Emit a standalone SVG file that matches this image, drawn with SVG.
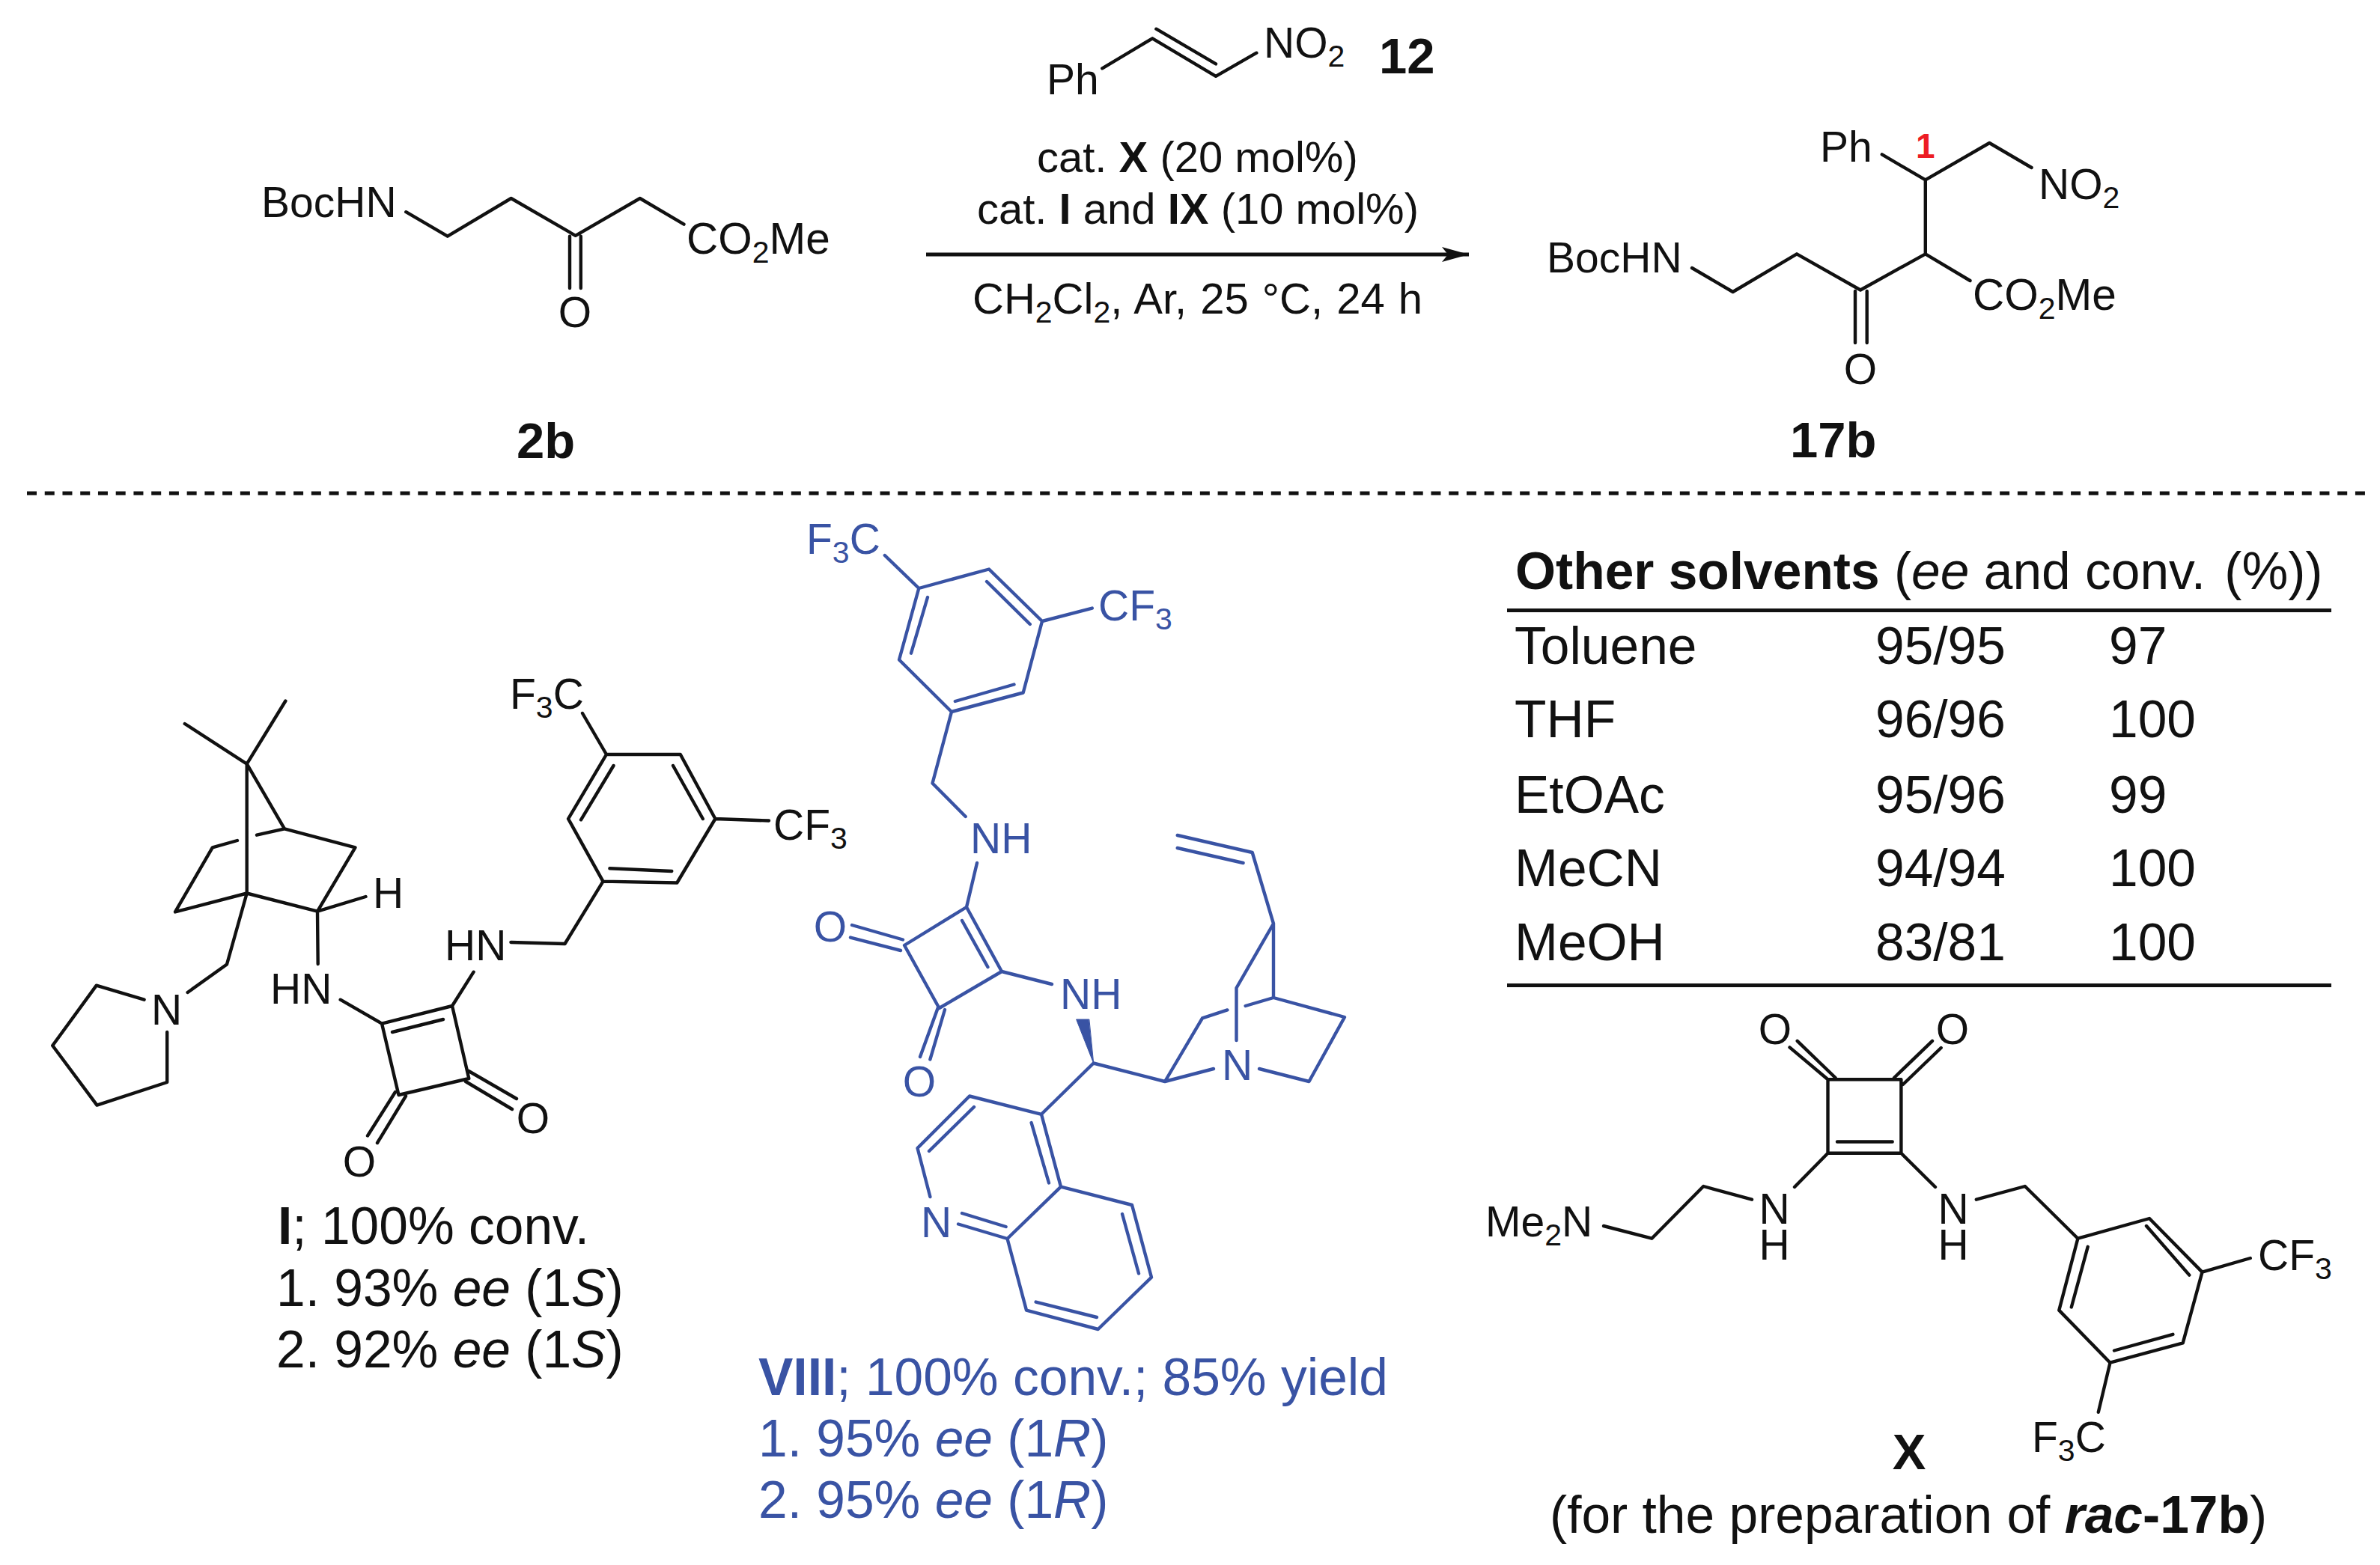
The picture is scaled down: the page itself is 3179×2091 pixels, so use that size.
<svg xmlns="http://www.w3.org/2000/svg" width="3179" height="2091" viewBox="0 0 3179 2091">
<style>
text{font-family:"Liberation Sans",Arial,sans-serif;fill:#111}
.a{font-size:57px;transform:translateY(1.5px)}
.c{font-size:58.5px}
.r{font-size:58px}
.t{font-size:69.5px;transform:translateY(1.5px)}
.l{font-size:67px;font-weight:bold}
.h{font-weight:bold}
.i{font-style:italic}
.k{stroke:#111;stroke-width:4.4;fill:none;stroke-linejoin:round;stroke-linecap:round}
.bl text,.bl{fill:#3953a4}
.bl path{stroke:#3953a4;stroke-width:4.4;fill:none;stroke-linejoin:round;stroke-linecap:round}
.s{font-size:41px}
</style>
<defs>
<marker id="ah" markerUnits="userSpaceOnUse" markerWidth="40" markerHeight="24" refX="38" refY="12" orient="auto"><path d="M2 2L38 12L2 22L10 12Z" fill="#111"/></marker>
</defs>
<rect width="3179" height="2091" fill="#fff"/>
<g id="connectors">
<path d="M1237 340H1962" stroke="#111" stroke-width="5" fill="none" marker-end="url(#ah)"/>
<path d="M36 659H3160" stroke="#111" stroke-width="5" stroke-dasharray="13 10.74" fill="none"/>
<path d="M2013 815.5H3114M2013 1316.5H3114" stroke="#111" stroke-width="5" fill="none"/>
</g>
<g id="compound-2b">
<path class="k" d="M542.3 283.2L597.8 315.7L682.7 265L768.7 314.8L854.8 265L913.5 299.7M761 315.7V385M775.8 315.7V385"/>
<text class="a" x="349" y="288">BocHN</text>
<text class="a c" x="917" y="337.5">CO<tspan class="s" dy="12">2</tspan><tspan dy="-12">Me</tspan></text>
<text class="a" x="768" y="435.6" text-anchor="middle">O</text>
<text class="l" x="690" y="611.5">2b</text>
</g>
<g id="compound-12">
<path class="k" d="M1472.3 91.3L1539.3 51.3L1624 101.9L1678.3 70.7M1544.4 38.7L1624 85.4"/>
<text class="a" x="1398" y="124">Ph</text>
<text class="a" x="1688" y="75.8">NO<tspan class="s" dy="12">2</tspan></text>
<text class="l" x="1842" y="97.6">12</text>
</g>
<g id="conditions">
<text class="r" x="1385" y="230">cat. <tspan class="h">X</tspan> (20 mol%)</text>
<text class="r" x="1305" y="299">cat. <tspan class="h">I</tspan> and <tspan class="h">IX</tspan> (10 mol%)</text>
<text class="r" x="1299" y="419" word-spacing="2">CH<tspan class="s" dy="12">2</tspan><tspan dy="-12">Cl</tspan><tspan class="s" dy="12">2</tspan><tspan dy="-12">, Ar, 25 °C, 24 h</tspan></text>
</g>
<g id="compound-17b">
<path class="k" d="M2260 358L2314.6 390L2400 339.3L2485 387.5L2571.8 339.3L2631.5 375M2571.8 339.3V240.4L2513.8 206.4M2571.8 240.4L2657.3 191L2713.6 224M2478 389V458M2493.7 389V458"/>
<text class="a" x="2066" y="362.5">BocHN</text>
<text class="a" x="2431" y="214.3">Ph</text>
<text x="2559" y="210.7" font-size="46" font-weight="bold" style="fill:#ed1c24">1</text>
<text class="a" x="2723" y="264.3">NO<tspan class="s" dy="12">2</tspan></text>
<text class="a c" x="2635" y="412.5">CO<tspan class="s" dy="12">2</tspan><tspan dy="-12">Me</tspan></text>
<text class="a" x="2485" y="511.4" text-anchor="middle">O</text>
<text class="l" x="2391" y="611.4">17b</text>
</g>
<g id="catalyst-I">
<path class="k" d="M381.4 936.5L329.7 1020.7L246.8 967M329.7 1020.7V1193.5M329.7 1020.7L380 1107.4L474.5 1132.3L424 1217.7L329.7 1193.5L234 1218.4L283.8 1132.3L317 1123M343 1115.7L380 1107.4M424 1217.7L488.5 1198M424 1217.7L424.7 1288M329.7 1193.5L303 1288.5L250.6 1326M192.6 1335.7L128.8 1316.6L70.2 1397L129.5 1476.6L223.2 1446V1379M454.7 1335.7L510 1367.6L604 1344L626.3 1441L532.5 1463L510 1367.6M524 1379L592 1362M604 1344L632.6 1298.7M682.4 1259L754.5 1261L805.5 1177.6L759 1094L810 1008H908.8L955.4 1094L904.3 1179.5L805.5 1177.6M776 1095.3L819.5 1023M899 1023L938.8 1094M814.4 1160.3L897.3 1164M810 1008L778 953M955.4 1094L1027 1096.5M528 1459L491 1517.5M542 1464.5L504 1527M626 1431L690 1468M622 1445L684 1482"/>
<text class="a" x="498" y="1211">H</text>
<text class="a" x="361" y="1339">HN</text>
<text class="a" x="594" y="1281.5">HN</text>
<text class="a" x="202" y="1367.6">N</text>
<text class="a" x="681" y="945">F<tspan class="s" dy="12">3</tspan><tspan dy="-12">C</tspan></text>
<text class="a" x="1033" y="1120.7">CF<tspan class="s" dy="12">3</tspan></text>
<text class="a" x="480" y="1570" text-anchor="middle">O</text>
<text class="a" x="712" y="1512" text-anchor="middle">O</text>
<text class="t" x="371" y="1660"><tspan class="h">I</tspan>; 100% conv.</text>
<text class="t" x="369" y="1743">1. 93% <tspan class="i">ee</tspan> (1<tspan class="i">S</tspan>)</text>
<text class="t" x="369" y="1825">2. 92% <tspan class="i">ee</tspan> (1<tspan class="i">S</tspan>)</text>
</g>
<g id="catalyst-VIII" class="bl">
<path d="M1181.8 742L1227.3 786L1321 760.5L1392 830L1366.7 925.5L1271 951L1201 881.5L1227.3 786M1239 798L1217 872.7M1318 777L1375.8 834M1354.5 914.5L1275.8 937M1392 830L1458.8 812.6M1271 951L1245.5 1046.5L1289.7 1091M1305 1153L1291 1212L1338 1298L1254.5 1347L1208 1263L1291 1212M1285 1230L1319.4 1292M1138 1236L1206 1255.5M1136 1252.6L1203 1270M1253 1346L1229 1412M1262 1349L1242.4 1415.4M1338 1298L1405 1315M1460.6 1420.5L1556 1445L1621 1428M1556 1445L1606 1360.4L1639.4 1349.4M1663.6 1344L1701 1333L1796 1359L1748.5 1445L1682 1428M1701 1333V1234L1651.5 1320V1390M1701 1234L1672.7 1139L1572.7 1116M1660.6 1153L1572.7 1133M1460.6 1420.5L1391 1488.8L1295 1464.5L1225.5 1534L1242.4 1599M1280 1635.5L1345.5 1655L1417 1585.6L1391 1488.8M1285 1621L1343.6 1639M1377.6 1500L1401 1580.5M1301 1479L1241 1538M1417 1585.6L1512 1610L1538 1706.6L1466.7 1776L1371 1750.6L1345.5 1655M1499 1622L1521 1701.5M1465 1760L1383.6 1739.6"/>
<path d="M1460.6 1420.5L1437.6 1362H1454.5Z" style="fill:#3953a4;stroke:#3953a4;stroke-width:1"/>
<text class="a" x="1077" y="738.5">F<tspan class="s" dy="12">3</tspan><tspan dy="-12">C</tspan></text>
<text class="a" x="1467" y="827">CF<tspan class="s" dy="12">3</tspan></text>
<text class="a" x="1296" y="1138">NH</text>
<text class="a" x="1416" y="1346">NH</text>
<text class="a" x="1632" y="1441">N</text>
<text class="a" x="1230" y="1651.6">N</text>
<text class="a" x="1109" y="1256" text-anchor="middle">O</text>
<text class="a" x="1228" y="1463" text-anchor="middle">O</text>
<text class="t" x="1013" y="1862"><tspan class="h">VIII</tspan>; 100% conv.; 85% yield</text>
<text class="t" x="1013" y="1944">1. 95% <tspan class="i">ee</tspan> (1<tspan class="i">R</tspan>)</text>
<text class="t" x="1013" y="2026">2. 95% <tspan class="i">ee</tspan> (1<tspan class="i">R</tspan>)</text>
</g>
<g id="solvent-table">
<text class="t" x="2024" y="785"><tspan class="h">Other solvents</tspan> (<tspan class="i">ee</tspan> and conv. <tspan dx="6">(%))</tspan></text>
<text class="t" x="2023" y="885.4">Toluene</text><text class="t" x="2505" y="885.4">95/95</text><text class="t" x="2817" y="885.4">97</text>
<text class="t" x="2023" y="983.9">THF</text><text class="t" x="2505" y="983.9">96/96</text><text class="t" x="2817" y="983.9">100</text>
<text class="t" x="2023" y="1084">EtOAc</text><text class="t" x="2505" y="1084">95/96</text><text class="t" x="2817" y="1084">99</text>
<text class="t" x="2023" y="1182">MeCN</text><text class="t" x="2505" y="1182">94/94</text><text class="t" x="2817" y="1182">100</text>
<text class="t" x="2023" y="1281">MeOH</text><text class="t" x="2505" y="1281">83/81</text><text class="t" x="2817" y="1281">100</text>
</g>
<g id="catalyst-X">
<path class="k" d="M2441.5 1442.3H2539.4V1540.7H2441.5ZM2454 1525.5H2527.7M2390.5 1399.4L2440 1441M2400.7 1390.8L2451.6 1440M2530 1440L2581 1390.8M2541.8 1449L2592.7 1400M2441.5 1540.7L2397 1586M2539.4 1540.7L2585 1586M2340 1602.7L2275.3 1585L2206.3 1654.7L2142 1638M2639.8 1602.7L2704.8 1585L2775.4 1654.7L2871 1628L2941.5 1699.6L2915.7 1794.4L2818.5 1820.7L2750.3 1750.6L2775.4 1654.7M2788.7 1665.8L2766.8 1746.5M2867 1638L2924.3 1703.6M2902.4 1782.8L2824 1804.5M2941.5 1699.6L3005.8 1681M2818.5 1820.7L2802.8 1886.8"/>
<text class="a" x="2371" y="1393" text-anchor="middle">O</text>
<text class="a" x="2608" y="1393" text-anchor="middle">O</text>
<text class="a" text-anchor="middle"><tspan x="2370" y="1633">N</tspan><tspan x="2370" y="1681">H</tspan></text>
<text class="a" text-anchor="middle"><tspan x="2609" y="1633">N</tspan><tspan x="2609" y="1681">H</tspan></text>
<text class="a" x="1984" y="1650.6">Me<tspan class="s" dy="12">2</tspan><tspan dy="-12">N</tspan></text>
<text class="a" x="3016" y="1695">CF<tspan class="s" dy="12">3</tspan></text>
<text class="a" x="2714" y="1938">F<tspan class="s" dy="12">3</tspan><tspan dy="-12">C</tspan></text>
<text class="l" x="2550" y="1962.5" text-anchor="middle">X</text>
<text class="t" x="2070" y="2046.7">(for the preparation of <tspan class="h i">rac</tspan><tspan class="h">-17b</tspan>)</text>
</g>
</svg>
